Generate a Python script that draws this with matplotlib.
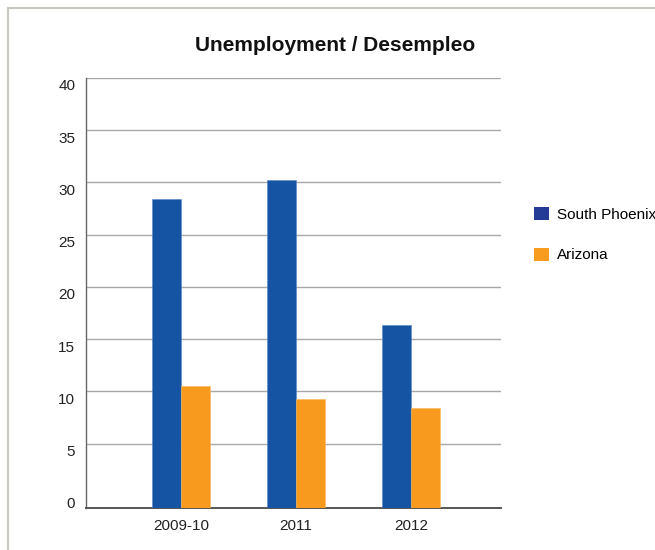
import matplotlib
matplotlib.use("Agg")
import matplotlib.pyplot as plt
from matplotlib.patches import Patch
from matplotlib.lines import Line2D
from matplotlib.transforms import ScaledTranslation
import numpy as np

# data
years = ["2009-10", "2011", "2012"]
south_phoenix = [28.4, 30.2, 16.4]
arizona = [10.5, 9.3, 8.4]
series_names = ["South Phoenix", "Arizona"]
y_ticks = [0, 5, 10, 15, 20, 25, 30, 35, 40]

bar_blue = "#1553a3"
bar_orange = "#f79a1e"
legend_blue = "#243c96"
legend_orange = "#f79c1f"

plt.rcParams["font.family"] = ["Liberation Sans", "DejaVu Sans"]

fig = plt.figure(figsize=(6.55, 5.5), dpi=100)
ax = fig.add_axes([0.1308, 0.0758, 0.6336, 0.7824])

# the baseline sits a little below the zero gridline, as in the original
y_bottom = -1.18
x = np.arange(len(years))
w = 0.25
ax.bar(x - w / 2, np.array(south_phoenix) - y_bottom, w, bottom=y_bottom,
       color=bar_blue, edgecolor="#5a86c4", linewidth=0.4, zorder=3)
ax.bar(x + w / 2, np.array(arizona) - y_bottom, w, bottom=y_bottom,
       color=bar_orange, edgecolor="#f9b75a", linewidth=0.4, zorder=3)

ax.set_xlim(-0.829, 2.78)
ax.set_ylim(y_bottom, 40)

# gridlines (skip zero, the axis line plays that part)
for t in y_ticks[1:]:
    ax.axhline(t, color="#a8a8a8", linewidth=1.0, zorder=1)

ax.set_yticks(y_ticks)
ax.set_yticklabels([str(t) for t in y_ticks])
ax.set_xticks(x)
ax.set_xticklabels(years)
ax.tick_params(axis="both", length=0, labelsize=11, colors="#222222")
ax.tick_params(axis="y", pad=7.5)
ax.tick_params(axis="x", pad=8)

# y labels hang slightly below their gridlines
shift = ScaledTranslation(0, -7 / 100, fig.dpi_scale_trans)
for lab in ax.get_yticklabels():
    lab.set_transform(lab.get_transform() + shift)

for s in ["top", "right"]:
    ax.spines[s].set_visible(False)
ax.spines["left"].set_color("#666666")
ax.spines["bottom"].set_color("#555555")
ax.spines["left"].set_linewidth(1.0)
ax.spines["bottom"].set_linewidth(1.4)

fig.text(0.511, 0.918, "Unemployment / Desempleo", ha="center", va="center",
         fontsize=15, fontweight="bold", color="#111111")

handles = [Patch(facecolor=legend_blue), Patch(facecolor=legend_orange)]
fig.legend(handles, series_names, loc="upper left", bbox_to_anchor=(0.8156, 0.624),
           frameon=False, fontsize=11, handlelength=0.95, handleheight=0.95,
           handletextpad=0.55, labelspacing=1.7, borderpad=0, borderaxespad=0)

# the thin frame at top and left of the original image
fig.add_artist(Line2D([0.0115, 0.0115], [0, 0.985], transform=fig.transFigure,
                      color="#c8c8c0", linewidth=1.5))
fig.add_artist(Line2D([0.0115, 1.0], [0.985, 0.985], transform=fig.transFigure,
                      color="#c8c8c0", linewidth=1.5))

fig.savefig("out.png", dpi=100, facecolor="white")
